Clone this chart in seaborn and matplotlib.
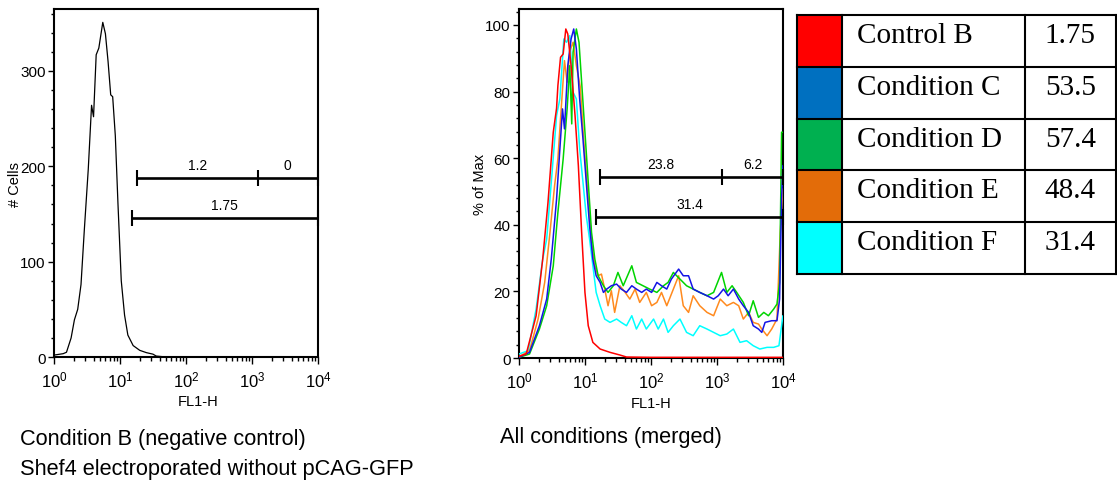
import numpy as np
import pandas as pd
import matplotlib
matplotlib.use("Agg")
import matplotlib.pyplot as plt
from matplotlib.ticker import MultipleLocator, LogLocator
from matplotlib.patches import Rectangle
import seaborn as sns

# ---------------- data ----------------
# Left panel: Condition B (negative control), counts vs log10(FL1-H)
neg_log_fl1 = [0, 0.14, 0.19, 0.26, 0.31, 0.36, 0.41, 0.46, 0.52, 0.57,
               0.60, 0.64, 0.68, 0.72, 0.74, 0.78, 0.82, 0.86, 0.89, 0.93,
               0.97, 1.02, 1.07, 1.12, 1.20, 1.30, 1.40, 1.50, 1.55, 1.70,
               2.5, 4.0]
neg_cells = [2, 3.5, 5, 20, 39, 50, 76, 133, 197, 264,
             252, 317, 324, 342, 351, 339, 310, 275, 273, 232,
             161, 80, 44, 23, 12, 7, 4.6, 3, 1, 0,
             0, 0]

# Right panel: % of max vs log10(FL1-H)
red_log = [0, 0.11, 0.26, 0.36, 0.44, 0.52, 0.57, 0.59, 0.63, 0.67,
           0.71, 0.74, 0.79, 0.85, 0.90, 0.95, 1.00, 1.05, 1.12, 1.23,
           1.38, 1.53, 1.63, 2.0, 3.0, 4.0]
red_pct = [0.5, 1.2, 12.7, 29.7, 46.7, 67.8, 75, 81.8, 90.3, 91.3,
           98.8, 97.3, 87.8, 72.8, 57.8, 37.7, 19.7, 9.7, 4.7, 2.7,
           1.7, 0.9, 0.3, 0.2, 0.2, 0.2]

blue_log = [0, 0.16, 0.31, 0.42, 0.49, 0.57, 0.62, 0.66, 0.69, 0.74,
            0.79, 0.83, 0.87, 0.92, 0.97, 1.02, 1.07, 1.12, 1.17, 1.23,
            1.28, 1.33, 1.40, 1.48, 1.55, 1.63, 1.71, 1.78, 1.86, 1.93,
            2.01, 2.09, 2.16, 2.24, 2.31, 2.42, 2.49, 2.57, 2.64, 2.74,
            2.85, 2.95, 3.02, 3.10, 3.17, 3.25, 3.33, 3.40, 3.48, 3.55,
            3.63, 3.68, 3.73, 3.83, 3.91, 3.95, 3.98, 4.0]
blue_pct = [0.2, 1.7, 9.7, 17.7, 29.7, 47.7, 62.8, 74.8, 68.8, 87.8,
            95.8, 98.8, 92.8, 77.8, 65.8, 52.8, 39.7, 29.7, 24.7, 22.7,
            19.7, 20.7, 21.7, 22.2, 20.7, 19.7, 21.7, 20.7, 19.7, 20.7,
            19.7, 22.7, 21.7, 20.7, 23.7, 26.7, 24.7, 24.7, 20.7, 19.7,
            18.7, 17.7, 18.7, 20.7, 18.7, 20.7, 17.7, 15.7, 13.7, 9.7,
            8.7, 7.7, 10.7, 11.2, 11.2, 17.7, 47.7, 57.8]

green_log = [0, 0.16, 0.31, 0.42, 0.52, 0.59, 0.67, 0.73, 0.77, 0.80,
             0.82, 0.87, 0.91, 0.95, 1.00, 1.05, 1.10, 1.15, 1.20, 1.28,
             1.35, 1.43, 1.50, 1.58, 1.71, 1.78, 1.88, 1.98, 2.09, 2.19,
             2.26, 2.34, 2.44, 2.54, 2.64, 2.74, 2.85, 2.95, 3.07, 3.15,
             3.23, 3.30, 3.40, 3.48, 3.55, 3.63, 3.71, 3.78, 3.86, 3.91,
             3.95, 3.98, 4.0]
green_pct = [0.2, 1.2, 8.7, 15.7, 27.7, 43.7, 59.8, 74.8, 87.8, 70.3,
             91.8, 98.8, 94.8, 82.8, 67.8, 52.8, 37.7, 29.7, 24.7, 21.7,
             19.7, 21.7, 25.7, 21.7, 27.7, 22.7, 21.7, 20.7, 19.7, 21.7,
             22.7, 25.7, 23.7, 21.7, 20.7, 19.7, 18.7, 19.7, 25.7, 19.7,
             21.7, 19.7, 16.7, 12.7, 17.2, 12.2, 13.7, 12.7, 14.7, 16.2,
             22.7, 67.8, 67.8]

orange_log = [0, 0.16, 0.29, 0.39, 0.47, 0.54, 0.59, 0.64, 0.69, 0.73,
              0.77, 0.82, 0.87, 0.93, 0.98, 1.05, 1.10, 1.15, 1.20, 1.25,
              1.30, 1.35, 1.40, 1.45, 1.53, 1.61, 1.68, 1.76, 1.83, 1.93,
              2.01, 2.09, 2.16, 2.24, 2.34, 2.42, 2.49, 2.57, 2.64, 2.74,
              2.85, 2.95, 3.05, 3.15, 3.25, 3.33, 3.40, 3.48, 3.55, 3.63,
              3.68, 3.76, 3.83, 3.91, 3.96, 4.0]
orange_pct = [0.4, 2.2, 11.7, 22.7, 37.7, 51.8, 59.8, 74.8, 89.3, 82.8,
              92.1, 94.8, 87.8, 81.3, 65.8, 47.7, 34.7, 27.7, 24.7, 25.2,
              20.7, 15.7, 20.2, 13.7, 21.7, 19.7, 17.7, 20.7, 16.7, 19.7,
              15.7, 16.7, 19.7, 15.7, 20.7, 24.7, 15.7, 13.7, 18.7, 15.7,
              13.7, 12.7, 17.7, 15.7, 16.7, 15.7, 11.7, 13.7, 10.7, 10.2,
              8.7, 6.7, 8.7, 11.7, 37.7, 50.8]

cyan_log = [0, 0.14, 0.26, 0.36, 0.42, 0.49, 0.57, 0.62, 0.68, 0.72,
            0.77, 0.82, 0.87, 0.92, 0.97, 1.02, 1.07, 1.12, 1.17, 1.23,
            1.30, 1.38, 1.48, 1.55, 1.63, 1.71, 1.78, 1.86, 1.93, 2.04,
            2.11, 2.19, 2.26, 2.34, 2.44, 2.54, 2.64, 2.74, 2.85, 2.95,
            3.05, 3.15, 3.25, 3.35, 3.45, 3.55, 3.65, 3.76, 3.86, 3.94,
            4.0]
cyan_pct = [1.2, 2.2, 14.7, 29.7, 35.7, 52.8, 72.8, 77.8, 95.8, 94.8,
            96.8, 79.8, 77.8, 62.8, 52.8, 42.7, 35.7, 27.7, 19.7, 15.7,
            11.7, 10.7, 11.7, 10.7, 9.7, 12.7, 8.7, 11.7, 8.7, 11.7,
            8.7, 11.7, 7.7, 9.7, 11.7, 7.7, 6.7, 9.7, 8.7, 7.7,
            6.7, 7.2, 8.7, 4.7, 5.2, 3.7, 2.7, 3.2, 3.2, 3.7,
            12.7]

# Gates (FL1-H bounds, y level, labels)
left_gate_split = [18, 1230, 10000]
left_gate_split_y = 188
left_gate_split_labels = ["1.2", "0"]
left_gate_total = [15.2, 10000]
left_gate_total_y = 146
left_gate_total_label = "1.75"

right_gate_split = [17, 1200, 10000]
right_gate_split_y = 54.4
right_gate_split_labels = ["23.8", "6.2"]
right_gate_total = [14.7, 10000]
right_gate_total_y = 42.3
right_gate_total_label = "31.4"

# Table / legend
conditions = ["Control B", "Condition C", "Condition D", "Condition E", "Condition F"]
gfp_percent = ["1.75", "53.5", "57.4", "48.4", "31.4"]
table_colors = ["#FF0000", "#0070C0", "#00B050", "#E36C09", "#00FFFF"]
line_colors = ["#FF0000", "#1414E6", "#00D400", "#FF8A1E", "#00FFFF"]

# ---------------- style ----------------
sns.set_style("ticks")
sans = ["Liberation Sans", "DejaVu Sans"]
plt.rcParams["font.family"] = sans
plt.rcParams["mathtext.fontset"] = "custom"
plt.rcParams["mathtext.rm"] = "Liberation Sans"
plt.rcParams["mathtext.it"] = "Liberation Sans"
plt.rcParams["mathtext.bf"] = "Liberation Sans"
plt.rcParams["axes.edgecolor"] = "black"
plt.rcParams["axes.linewidth"] = 1.5
plt.rcParams["xtick.color"] = "black"
plt.rcParams["ytick.color"] = "black"
plt.rcParams["text.color"] = "black"
plt.rcParams["axes.labelcolor"] = "black"

fig = plt.figure(figsize=(11.17, 4.81), dpi=100)
axL = fig.add_axes([0.0483, 0.2557, 0.2363, 0.7235])
axR = fig.add_axes([0.4646, 0.2536, 0.2363, 0.7256])
axT = fig.add_axes([0.7135, 0.4283, 0.2856, 0.5385])

# ---------------- left panel ----------------
df_neg = pd.DataFrame({"FL1-H": np.power(10.0, neg_log_fl1), "cells": neg_cells})
sns.lineplot(data=df_neg, x="FL1-H", y="cells", ax=axL, color="black",
             linewidth=0.9, sort=False, estimator=None)

# ---------------- right panel ----------------
series = [("Control B", red_log, red_pct), ("Condition C", blue_log, blue_pct),
          ("Condition D", green_log, green_pct), ("Condition E", orange_log, orange_pct),
          ("Condition F", cyan_log, cyan_pct)]
frames = []
for name, lx, py in series:
    frames.append(pd.DataFrame({"FL1-H": np.power(10.0, lx), "pct": py, "condition": name}))
df_all = pd.concat(frames, ignore_index=True)
palette = dict(zip(conditions, line_colors))
draw_order = ["Condition F", "Condition E", "Condition D", "Condition C", "Control B"]
for name in draw_order:
    sub = df_all[df_all["condition"] == name]
    sns.lineplot(data=sub, x="FL1-H", y="pct", ax=axR, color=palette[name],
                 linewidth=1.1, sort=False, estimator=None, zorder=3)


def draw_gates(ax, split, split_y, split_labels, total, total_y, total_label):
    ax.hlines(split_y, split[0], split[-1], color="black", lw=1.9, zorder=4, clip_on=False)
    ax.plot(split, [split_y] * len(split), ls="none", marker="|", ms=11, mew=1.5,
            color="black", zorder=4, clip_on=False)
    for a, b, lab in zip(split[:-1], split[1:], split_labels):
        ax.annotate(lab, xy=(np.sqrt(a * b), split_y), xytext=(0, 6.5),
                    textcoords="offset points", ha="center", va="baseline", fontsize=10)
    ax.hlines(total_y, total[0], total[-1], color="black", lw=1.9, zorder=4, clip_on=False)
    ax.plot(total, [total_y] * len(total), ls="none", marker="|", ms=11, mew=1.5,
            color="black", zorder=4, clip_on=False)
    ax.annotate(total_label, xy=(np.sqrt(total[0] * total[-1]), total_y), xytext=(0, 6.5),
                textcoords="offset points", ha="center", va="baseline", fontsize=10)


draw_gates(axL, left_gate_split, left_gate_split_y, left_gate_split_labels,
           left_gate_total, left_gate_total_y, left_gate_total_label)
draw_gates(axR, right_gate_split, right_gate_split_y, right_gate_split_labels,
           right_gate_total, right_gate_total_y, right_gate_total_label)

# ---------------- axes formatting ----------------
for ax, ylab, ymax, major, minor in [(axL, "# Cells", 365, 100, 20),
                                     (axR, "% of Max", 104.8, 20, 4)]:
    ax.set_xscale("log")
    ax.set_xlim(1, 1e4)
    ax.set_ylim(0, ymax)
    ax.xaxis.set_major_locator(LogLocator(base=10, numticks=10))
    ax.xaxis.set_minor_locator(LogLocator(base=10, subs=np.arange(2, 10), numticks=50))
    ax.yaxis.set_major_locator(MultipleLocator(major))
    ax.yaxis.set_minor_locator(MultipleLocator(minor))
    ax.tick_params(axis="x", which="major", length=5, width=1, pad=4, labelsize=12, direction="out")
    ax.tick_params(axis="x", which="minor", length=3, width=1, direction="out")
    ax.tick_params(axis="y", which="major", length=4.5, width=1, pad=1.5, labelsize=11, direction="out")
    ax.tick_params(axis="y", which="minor", length=2.5, width=1, direction="out")
    ax.set_ylabel(ylab, fontsize=10.5)
    ax.yaxis.set_label_coords(-0.121, 0.5)
    for s in ax.spines.values():
        s.set_visible(True)
        s.set_linewidth(1.5)
        s.set_color("black")

axL.set_xlabel("FL1-H", fontsize=10.5)
axR.set_xlabel("FL1-H", fontsize=10.5)
axL.xaxis.set_label_coords(0.545, -0.106)
axR.xaxis.set_label_coords(0.5, -0.108)

# ---------------- table ----------------
n = len(conditions)
col_edges = [0, 0.141, 0.715, 1.0]
axT.set_xlim(0, 1)
axT.set_ylim(n, 0)
axT.axis("off")
serif = ["Liberation Serif", "DejaVu Serif"]
for i, (name, val, colr) in enumerate(zip(conditions, gfp_percent, table_colors)):
    axT.add_patch(Rectangle((col_edges[0], i), col_edges[1] - col_edges[0], 1,
                            facecolor=colr, edgecolor="none"))
    axT.text(0.188, i + 0.52, name, ha="left", va="baseline", fontsize=21, family=serif)
    axT.text(0.857, i + 0.52, val, ha="center", va="baseline", fontsize=21, family=serif)
for yy in range(n + 1):
    axT.plot([0, 1], [yy, yy], color="black", lw=1.5, clip_on=False, solid_capstyle="projecting")
for xx in col_edges:
    axT.plot([xx, xx], [0, n], color="black", lw=1.5, clip_on=False, solid_capstyle="projecting")

# ---------------- captions ----------------
fig.text(20 / 1117, 1 - 445 / 481, "Condition B (negative control)", fontsize=15.7,
         family=sans, va="baseline", ha="left")
fig.text(20 / 1117, 1 - 475 / 481, "Shef4 electroporated without pCAG-GFP", fontsize=15.7,
         family=sans, va="baseline", ha="left")
fig.text(500 / 1117, 1 - 443 / 481, "All conditions (merged)", fontsize=15.7,
         family=sans, va="baseline", ha="left")

fig.savefig("out.png", dpi=100)
